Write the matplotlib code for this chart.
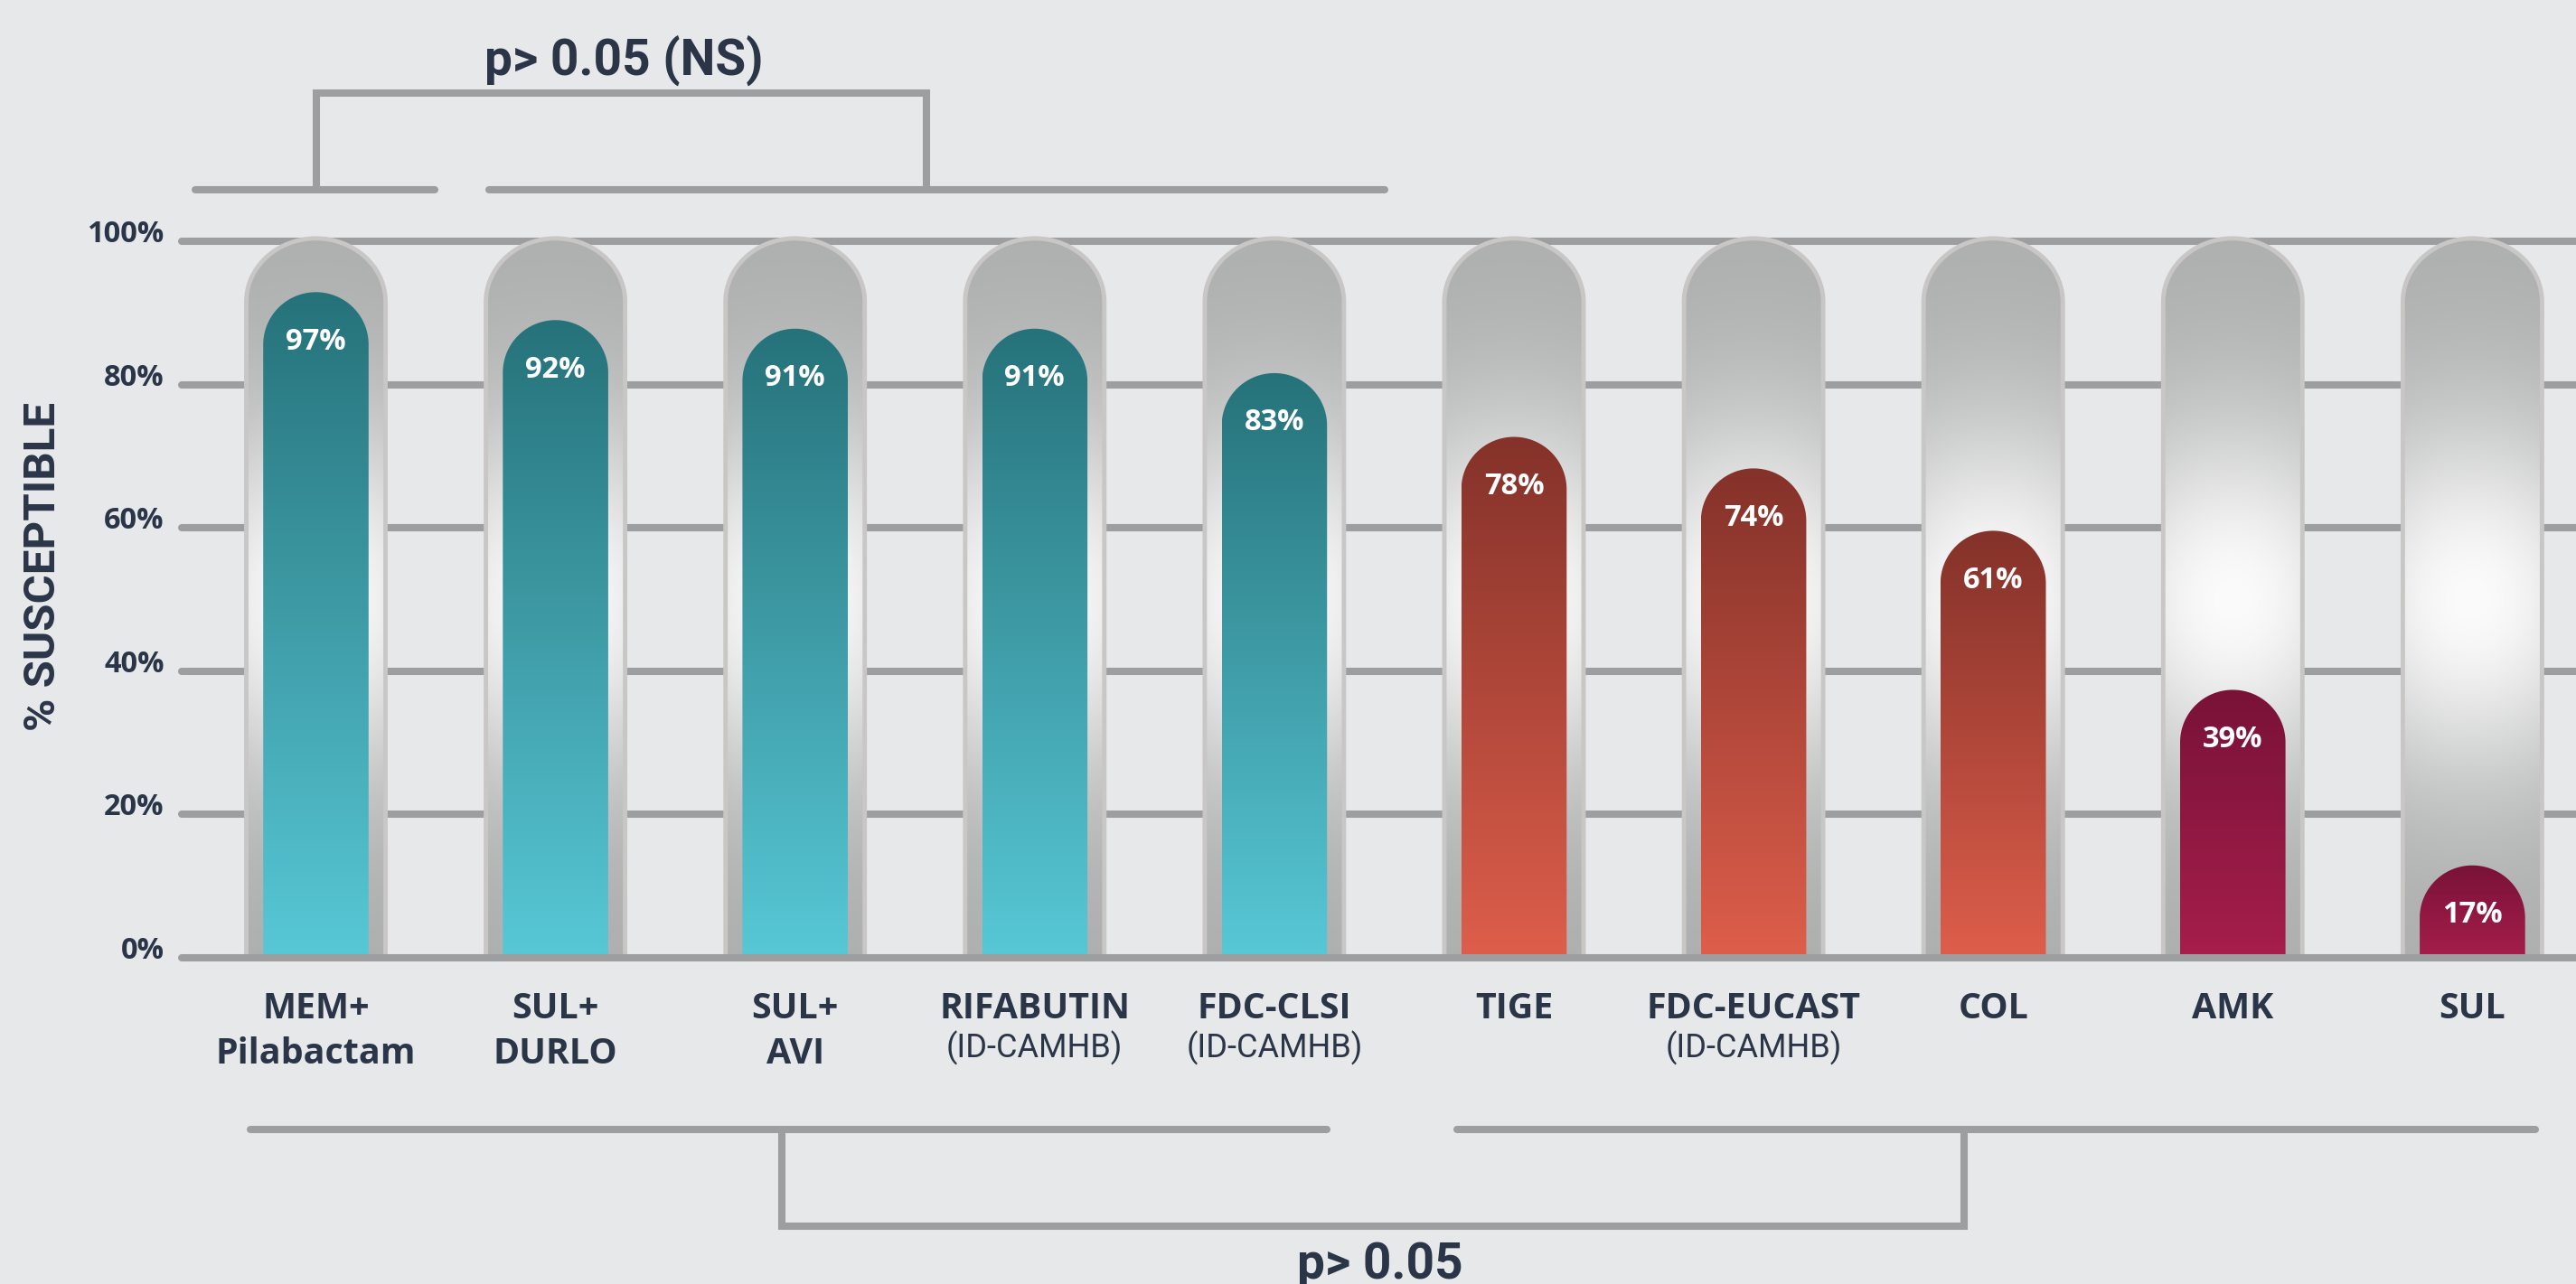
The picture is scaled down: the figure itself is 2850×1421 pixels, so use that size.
"""
Susceptibility bar chart with capsule-shaped bars and comparison brackets
"""
import numpy as np
import matplotlib.pyplot as plt
from matplotlib.path import Path
from matplotlib.patches import PathPatch
from matplotlib.colors import to_rgb

# Data
drug_names = ["MEM+", "SUL+", "SUL+", "RIFABUTIN", "FDC-CLSI",
              "TIGE", "FDC-EUCAST", "COL", "AMK", "SUL"]
drug_names_2 = ["Pilabactam", "DURLO", "AVI", "", "", "", "", "", "", ""]
test_media = ["", "", "", "(ID-CAMHB)", "(ID-CAMHB)", "", "(ID-CAMHB)", "", "", ""]
pct_susceptible = [97, 92, 91, 91, 83, 78, 74, 61, 39, 17]
# drawn bar heights (as they appear on the axis, slightly below the printed values)
bar_heights = [92.9, 89.0, 87.8, 87.8, 81.6, 72.7, 68.3, 59.6, 37.4, 12.9]
bar_groups = ["teal"] * 5 + ["red"] * 3 + ["maroon"] * 2
y_ticks = [0, 20, 40, 60, 80, 100]
y_label = "% SUSCEPTIBLE"
top_bracket_label = "p> 0.05 (NS)"
bottom_bracket_label = "p> 0.05"

# Style
BG = "#e7e8ea"
INK = "#2b3548"
LINE = "#9d9ea0"
GRADIENTS = {  # (bottom, top)
    "teal": ("#58c8d6", "#26727a"),
    "red": ("#de5e4b", "#84322a"),
    "maroon": ("#a61e4c", "#791237"),
}
FONT = ["Roboto", "DejaVu Sans"]
WIDE_FONT = ["Open Sans", "Roboto", "DejaVu Sans"]
LW = 5.8  # ~8 px


def rounded_path(xc, half_w, top, ry, n=60):
    t = np.linspace(np.pi, 0, n)
    arc_x = xc + half_w * np.cos(t)
    arc_y = top - ry + ry * np.sin(t)
    xs = np.concatenate([[xc - half_w], arc_x, [xc + half_w, xc - half_w]])
    ys = np.concatenate([[0], arc_y, [0, 0]])
    codes = [Path.MOVETO] + [Path.LINETO] * (len(xs) - 2) + [Path.CLOSEPOLY]
    return Path(np.column_stack([xs, ys]), codes)


def gradient_fill(ax, path, extent, rgb, zorder):
    patch = PathPatch(path, facecolor="none", edgecolor="none")
    ax.add_patch(patch)
    im = ax.imshow(rgb, extent=extent, origin="lower", aspect="auto",
                   interpolation="bicubic", zorder=zorder)
    im.set_clip_path(patch)
    return im


def draw_bracket(ax, left_span, right_span, left_drop, right_drop, y_arms, y_join):
    for x0, x1 in (left_span, right_span):
        ax.plot([x0, x1], [y_arms, y_arms], color=LINE, lw=LW,
                solid_capstyle="round", zorder=1)
    ax.plot([left_drop, left_drop, right_drop, right_drop],
            [y_arms, y_join, y_join, y_arms], color=LINE, lw=LW,
            solid_capstyle="butt", solid_joinstyle="miter", zorder=1)


def main():
    fig = plt.figure(figsize=(28.5, 14.21), dpi=100, facecolor=BG)
    ax = fig.add_axes([0, 0, 1, 1])
    ax.set_facecolor(BG)
    ax.set_axis_off()

    # data limits chosen so bars sit ~265 px apart and 100% spans ~793 px
    xlim = (-1.3184, 9.4323)
    ylim = (-45.52, 133.67)
    px_per_x = 2850 / (xlim[1] - xlim[0])
    px_per_y = 1421 / (ylim[1] - ylim[0])

    # gridlines
    for v in y_ticks:
        ax.plot([-0.560, xlim[1] + 0.1], [v, v], color=LINE, lw=LW,
                solid_capstyle="round", zorder=6 if v == 0 else 1)
        ax.text(-0.633, v - 0.13, f"{v}%", ha="right", va="baseline",
                fontsize=23.5, fontweight="bold", color=INK, family=WIDE_FONT)

    ax.text(-1.139, 54.6, y_label, rotation=90, ha="center", va="center",
            fontsize=35.5, fontweight="bold", color=INK, family=FONT)

    cap_hw = 77 / px_per_x
    cap_top = 100.4
    cap_ry = 70 / px_per_y
    bar_hw = 58.3 / px_per_x
    bar_ry = 58 / px_per_y

    grey = np.array(to_rgb("#adafae"))
    white = np.array(to_rgb("#fbfbfb"))
    vv = np.linspace(0, cap_top, 240)
    uu = np.linspace(-1, 1, 60)
    glow = np.exp(-((vv - 50) / 26) ** 2)[:, None] * (1 - 0.18 * uu ** 2)[None, :]
    capsule_rgb = grey * (1 - glow[..., None]) + white * glow[..., None]

    for i, (h, pct, grp) in enumerate(zip(bar_heights, pct_susceptible, bar_groups)):
        # background capsule
        cpath = rounded_path(i, cap_hw, cap_top, cap_ry)
        gradient_fill(ax, cpath, [i - cap_hw, i + cap_hw, 0, cap_top], capsule_rgb, 2)
        ax.add_patch(PathPatch(cpath, facecolor="none", edgecolor="#c9c6c6",
                               lw=3.5, zorder=3))

        # value bar
        c0 = np.array(to_rgb(GRADIENTS[grp][0]))
        c1 = np.array(to_rgb(GRADIENTS[grp][1]))
        t = np.linspace(0, 1, 200)[:, None, None]
        bar_rgb = np.repeat(c0 * (1 - t) + c1 * t, 2, axis=1)
        bpath = rounded_path(i, bar_hw, h, bar_ry)
        gradient_fill(ax, bpath, [i - bar_hw, i + bar_hw, 0, h], bar_rgb, 4)

        ax.text(i, h - 8.0, f"{pct}%", ha="center", va="baseline",
                fontsize=23.5, fontweight="bold", color="white", family=WIDE_FONT,
                zorder=5)

        # category labels
        ax.text(i, -8.45, drug_names[i], ha="center", va="baseline",
                fontsize=28.4, fontweight="bold", color=INK, family=WIDE_FONT)
        if drug_names_2[i]:
            ax.text(i, -14.75, drug_names_2[i], ha="center", va="baseline",
                    fontsize=28.4, fontweight="bold", color=INK, family=WIDE_FONT)
        if test_media[i]:
            ax.text(i, -13.87, test_media[i], ha="center", va="baseline",
                    fontsize=26, color=INK, family=FONT)

    # comparison brackets
    draw_bracket(ax, (-0.504, 0.496), (0.722, 4.461), 0.0, 2.548, 107.19, 120.68)
    ax.text(1.284, 123.2, top_bracket_label, ha="center", va="baseline",
            fontsize=39.5, fontweight="bold", color=INK, family=FONT)

    draw_bracket(ax, (-0.274, 4.219), (4.763, 9.262), 1.945, 6.878, -23.96, -37.45)
    ax.text(4.442, -44.77, bottom_bracket_label, ha="center", va="baseline",
            fontsize=39.5, fontweight="bold", color=INK, family=FONT)

    ax.set_xlim(*xlim)
    ax.set_ylim(*ylim)
    fig.savefig("out.png", dpi=100, facecolor=BG)


if __name__ == "__main__":
    main()
